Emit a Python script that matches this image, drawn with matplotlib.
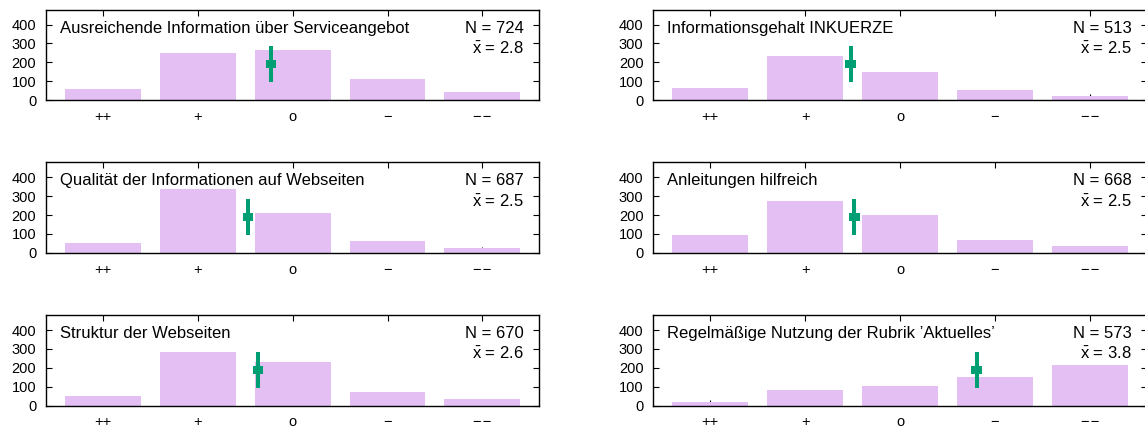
import matplotlib
matplotlib.use("Agg")
import matplotlib.pyplot as plt
import numpy as np

plt.rcParams['font.family'] = ['Liberation Sans', 'DejaVu Sans']
plt.rcParams['mathtext.fontset'] = 'custom'
plt.rcParams['mathtext.rm'] = 'Liberation Sans'
plt.rcParams['mathtext.it'] = 'Liberation Sans'

categories = ["++", "+", "o", "\u2212", "\u2212\u200a\u2212"]

titles = [
    "Ausreichende Information über Serviceangebot",
    "Informationsgehalt INKUERZE",
    "Qualität der Informationen auf Webseiten",
    "Anleitungen hilfreich",
    "Struktur der Webseiten",
    "Regelmäßige Nutzung der Rubrik \u2019Aktuelles\u2019",
]

# answer counts per category (++ ... --)
counts_service = [56, 249, 264, 114, 41]
counts_inkuerze = [62, 232, 148, 52, 19]
counts_qualitaet = [50, 337, 212, 62, 26]
counts_anleitungen = [92, 274, 201, 66, 35]
counts_struktur = [51, 282, 230, 74, 33]
counts_aktuelles = [18, 82, 106, 152, 215]

all_counts = [counts_service, counts_inkuerze, counts_qualitaet,
              counts_anleitungen, counts_struktur, counts_aktuelles]

bar_colour = "#e3bff3"
mean_colour = "#009e73"

fig = plt.figure(figsize=(11.45, 4.28), dpi=100)

W, H = 1145.0, 428.0
col_left = [46.0, 653.3]
ax_w = 493.3
row_top = [9.5, 162.3, 315.0]
ax_h = 90.5

x = np.arange(1, 6)
for i, counts in enumerate(all_counts):
    r, c = divmod(i, 2)
    ax = fig.add_axes([col_left[c] / W, 1 - (row_top[r] + ax_h) / H, ax_w / W, ax_h / H])
    ax.set_axisbelow(True)
    ax.bar(x, counts, width=0.8, color=bar_colour, linewidth=0, zorder=1)

    n = int(np.sum(counts))
    mean = np.average(x, weights=counts)
    ax.plot([mean, mean], [95, 285], color=mean_colour, lw=2.9,
            solid_capstyle="butt", zorder=3)
    ax.errorbar(mean, 190, xerr=0.035, color=mean_colour, elinewidth=2.9,
                capsize=2.6, capthick=2.9, fmt="none", zorder=3)

    ax.set_xlim(0.4, 5.6)
    ax.set_ylim(0, 480)
    ax.set_xticks(x)
    ax.set_xticklabels(categories)
    ax.set_yticks([0, 100, 200, 300, 400])
    ax.tick_params(axis="both", direction="in", length=4.5, width=0.8,
                   top=True, right=True, labelsize=10.5)
    ax.tick_params(axis="x", pad=7)
    ax.tick_params(axis="y", pad=7)
    for s in ax.spines.values():
        s.set_linewidth(1.0)

    ax.text(0.028, 0.744, titles[i], transform=ax.transAxes,
            fontsize=12, ha="left", va="baseline")
    ax.text(0.969, 0.744, "N = %d" % n, transform=ax.transAxes,
            fontsize=12, ha="right", va="baseline")
    ax.text(0.969, 0.511, r"$\bar{\mathrm{x}}$ = %.1f" % mean, transform=ax.transAxes,
            fontsize=12, ha="right", va="baseline")

fig.savefig("out.png", dpi=100)
